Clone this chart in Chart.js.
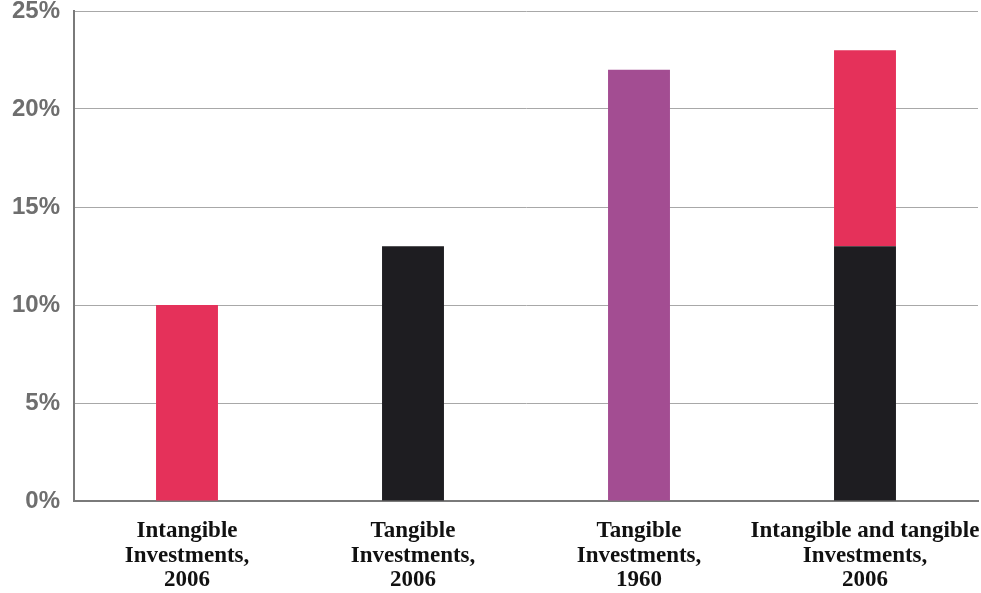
<!DOCTYPE html>
<html>
<head>
<meta charset="utf-8">
<style>
html,body{margin:0;padding:0;background:#fff;}
#wrap{width:981px;height:593px;position:relative;}
</style>
<script src="https://cdn.jsdelivr.net/npm/chart.js@4/dist/chart.umd.min.js"></script>
</head>
<body>
<div id="wrap"><canvas id="c"></canvas></div>
<script>
const categories = [
  ["Intangible", "Investments,", "2006"],
  ["Tangible", "Investments,", "2006"],
  ["Tangible", "Investments,", "1960"],
  ["Intangible and tangible", "Investments,", "2006"]
];
const tangible2006 = [0, 13, 0, 13];
const intangible2006 = [10, 0, 0, 10];
const tangible1960 = [0, 0, 22, 0];
const yTicks = [0, 5, 10, 15, 20, 25];

new Chart(document.getElementById('c'), {
  type: 'bar',
  data: {
    labels: categories,
    datasets: [
      {label: 'Tangible 2006', data: tangible2006, backgroundColor: '#1e1d21', stack: 's'},
      {label: 'Intangible 2006', data: intangible2006, backgroundColor: '#e5315a', stack: 's'},
      {label: 'Tangible 1960', data: tangible1960, backgroundColor: '#a34d92', stack: 's'}
    ]
  },
  options: {
    responsive: true,
    maintainAspectRatio: false,
    animation: false,
    layout: {padding: {top: 11, right: 3, left: 0, bottom: 0}},
    plugins: {legend: {display: false}, tooltip: {enabled: false}},
    datasets: {bar: {barPercentage: 1, categoryPercentage: 0.274}},
    scales: {
      x: {
        stacked: true,
        grid: {display: false, drawTicks: false},
        border: {display: true, color: '#7a7a7a', width: 2},
        afterFit: (s) => { s.height = 92; s.paddingLeft = 0; s.paddingRight = 0; },
        ticks: {
          color: '#111',
          padding: 18,
          maxRotation: 0,
          autoSkip: false,
          font: {family: 'Liberation Serif', weight: 'bold', size: 23, lineHeight: 1.06}
        }
      },
      y: {
        stacked: true,
        min: 0, max: 25,
        afterBuildTicks: (s) => { s.ticks = yTicks.map(v => ({value: v})); },
        afterFit: (s) => { s.width = 74; s.paddingTop = 0; s.paddingBottom = 0; },
        grid: {color: '#a8a8a8', lineWidth: 1, drawTicks: false},
        border: {display: true, color: '#7a7a7a', width: 2},
        ticks: {
          color: '#6e6e6e',
          padding: 14,
          font: {family: 'Liberation Sans', weight: 'bold', size: 24},
          callback: (v) => v + '%'
        }
      }
    }
  }
});
</script>
</body>
</html>
